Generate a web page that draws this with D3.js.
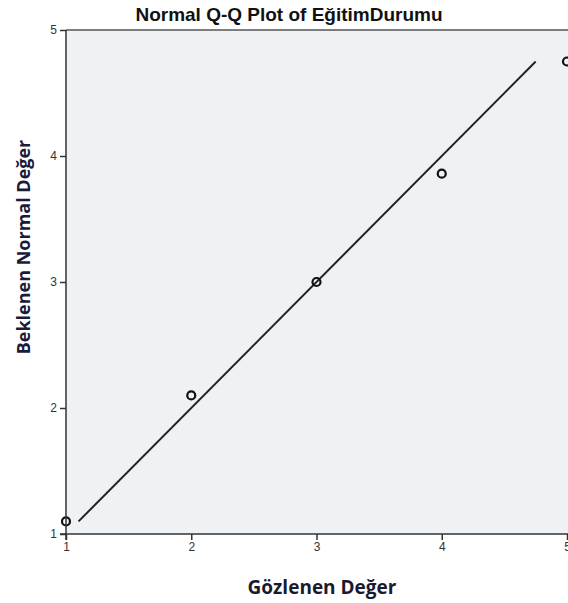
<!DOCTYPE html>
<meta charset="utf-8">
<style>
body { margin: 0; background: #fff; }
.axis text { font-family: "Liberation Sans", Arial, sans-serif; font-size: 12px; fill: #333; }
.axis path, .axis line { stroke: #333; stroke-width: 1.5; }
.refline { fill: none; stroke: #222; stroke-width: 2; }
.dot { fill: none; stroke: #111; stroke-width: 2.2; }
</style>
<body></body>
<script src="https://d3js.org/d3.v7.min.js"></script>
<script>
// observed values and expected normal values (SPSS Q-Q)
var observed = [1, 2, 3, 4, 5];
var expected = [1.10, 2.10, 3.00, 3.86, 4.75];
var refLine = [1.10, 4.75];   // reference line x = y
var xTicks = [1, 2, 3, 4, 5];
var yTicks = [1, 2, 3, 4, 5];
var title = "Normal Q-Q Plot of EğitimDurumu";
var xTitle = "Gözlenen Değer";
var yTitle = "Beklenen Normal Değer";

var W = 568, H = 603;
var plot = {left: 66, top: 30, right: 567, bottom: 534};

var svg = d3.select("body").append("svg")
    .attr("width", W)
    .attr("height", H);

var x = d3.scaleLinear().domain([1, 5]).range([plot.left, plot.right]);
var y = d3.scaleLinear().domain([1, 5]).range([plot.bottom, plot.top]);

// plot background
svg.append("rect")
    .attr("x", plot.left).attr("y", plot.top)
    .attr("width", W - plot.left).attr("height", plot.bottom - plot.top)
    .attr("fill", "#eff2f5");

// top frame line
svg.append("line")
    .attr("x1", plot.left).attr("x2", W)
    .attr("y1", plot.top).attr("y2", plot.top)
    .attr("stroke", "#555").attr("stroke-width", 1.5);

// reference line
svg.append("line")
    .attr("class", "refline")
    .attr("x1", x(refLine[0])).attr("y1", y(refLine[0]))
    .attr("x2", x(refLine[1])).attr("y2", y(refLine[1]));

// points
svg.selectAll(".dot")
    .data(observed)
    .enter().append("circle")
    .attr("class", "dot")
    .attr("r", 4)
    .attr("cx", function(d) { return x(d); })
    .attr("cy", function(d, i) { return y(expected[i]); });

// axes
svg.append("g")
    .attr("class", "axis")
    .attr("transform", "translate(0," + plot.bottom + ")")
    .call(d3.axisBottom(x).tickValues(xTicks).tickSize(6).tickSizeOuter(0).tickPadding(2).tickFormat(d3.format("d")))
    .select(".domain").attr("d", "M" + (plot.left - 6) + ",0H" + W);

svg.append("g")
    .attr("class", "axis")
    .attr("transform", "translate(" + plot.left + ",0)")
    .call(d3.axisLeft(y).tickValues(yTicks).tickSize(6).tickSizeOuter(0).tickPadding(3).tickFormat(d3.format("d")))
    .select(".domain").attr("d", "M0," + plot.top + "V" + (plot.bottom + 6));

// titles
svg.append("text")
    .attr("x", 289).attr("y", 21)
    .attr("text-anchor", "middle")
    .style("font-family", "'Liberation Sans', Arial, sans-serif")
    .style("font-weight", "bold")
    .style("font-size", "19px")
    .style("fill", "#111")
    .text(title);

svg.append("text")
    .attr("x", 322).attr("y", 594)
    .attr("text-anchor", "middle")
    .style("font-family", "'Open Sans', sans-serif")
    .style("font-weight", "bold")
    .style("font-size", "19px")
    .style("fill", "#1a1a2e")
    .text(xTitle);

svg.append("text")
    .attr("transform", "translate(30,247) rotate(-90)")
    .attr("text-anchor", "middle")
    .style("font-family", "'Open Sans', sans-serif")
    .style("font-weight", "bold")
    .style("font-size", "18px")
    .style("fill", "#1a1a3a")
    .text(yTitle);
</script>
